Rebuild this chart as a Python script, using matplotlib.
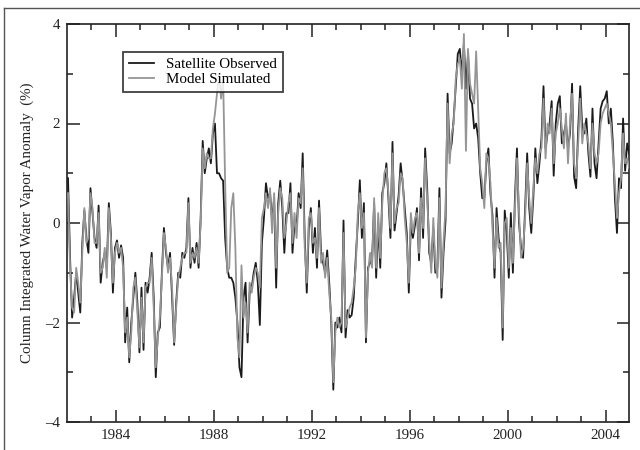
import numpy as np
import matplotlib
matplotlib.use("Agg")
import matplotlib.pyplot as plt
from matplotlib.lines import Line2D

plt.rcParams['font.family'] = ['Liberation Serif', 'DejaVu Serif']

start_year = 1982

# Satellite observed anomaly (%), monthly, Jan 1982 - Dec 2004
obs = [
    0.9, -0.7, -1.9, -1.5, -1.0, -1.4, -1.8, -0.4, 0.25, -0.3, -0.6, 0.7,      # 1982
    0.2, -0.3, -0.5, 0.35, -1.2, -0.8, -0.6, -0.9, 0.4, -0.2, -1.4, -0.5,      # 1983
    -0.35, -0.7, -0.45, -0.7, -2.4, -1.7, -2.8, -2.0, -1.5, -1.0, -1.6, -2.6,  # 1984
    -1.3, -2.55, -1.2, -1.4, -1.1, -0.6, -1.5, -3.1, -2.2, -2.1, -1.0, -0.1,   # 1985
    -0.6, -0.9, -0.6, -1.5, -2.45, -1.6, -1.0, -1.1, -0.6, -0.7, -0.5, 0.5,    # 1986
    -0.9, -0.5, -0.8, -0.4, -0.9, 0.1, 1.65, 1.0, 1.3, 1.5, 1.2, 1.8,          # 1987
    2.0, 1.0, 1.0, 0.9, 0.85, -0.3, -0.9, -1.1, -1.1, -1.2, -1.5, -2.0,        # 1988
    -2.9, -3.1, -1.5, -1.2, -2.4, -1.4, -1.3, -1.0, -0.8, -1.2, -2.05, -0.4,   # 1989
    0.1, 0.8, 0.5, 0.6, 0.05, 0.5, -1.3, 0.4, 0.85, 0.3, -0.6, 0.2,            # 1990
    0.2, 0.8, -0.6, 0.0, -0.1, 0.6, 0.3, 1.4, -0.3, -1.4, -0.1, 0.3,           # 1991
    -0.6, -0.1, -0.9, 0.45, -0.6, -0.8, -1.0, -0.55, -1.2, -2.0, -3.35, -2.0,  # 1992
    -2.1, -1.9, -2.2, 0.05, -2.3, -1.75, -1.9, -1.85, -1.5, -0.7, 0.0, 0.86,   # 1993
    -0.3, 0.4, -2.4, -0.9, -0.8, -0.75, 0.4, -1.1, 0.0, -0.9, 0.6, 0.8,        # 1994
    1.2, 0.5, -0.3, 1.63, -0.15, 0.2, 0.55, 1.2, 0.8, 0.3, -0.2, -1.4,         # 1995
    0.0, -0.3, -0.05, 0.3, -0.75, 0.7, -0.3, 1.5, 0.7, -0.6, -0.8, -0.1,       # 1996
    -1.0, -0.9, 0.7, -1.5, -0.6, 0.05, 2.6, 1.4, 1.6, 2.1, 2.75, 3.4,          # 1997
    3.5, 3.0, 3.6, 2.7, 3.4, 2.5, 2.4, 1.9, 2.0, 1.7, 1.0, 0.5,                # 1998
    0.5, 1.2, 1.5, 0.6, 0.15, -1.1, 0.3, -0.3, -0.6, -2.35, 0.25, -0.2,        # 1999
    -1.1, 0.2, -1.0, 0.5, 1.5, 0.0, -0.5, -0.7, 0.3, 1.4, 0.3, -0.2,           # 2000
    0.5, 1.5, 0.8, 1.2, 1.7, 2.75, 1.5, 1.8, 2.0, 2.45, 0.95, 2.0,             # 2001
    2.4, 2.55, 1.6, 1.8, 2.0, 1.5, 1.8, 2.8, 0.93, 0.7, 1.9, 2.75,             # 2002
    1.9, 1.8, 2.1, 1.4, 0.93, 2.3, 1.2, 0.9, 1.6, 2.3, 2.45, 2.5,              # 2003
    2.65, 2.0, 2.3, 1.6, 0.5, -0.2, 0.9, 0.7, 2.1, 1.05, 1.6, 1.4,             # 2004
]

# Model simulated anomaly (%), monthly, Jan 1982 - Dec 2004
model = [
    0.6, -0.9, -1.7, -1.8, -0.9, -1.2, -1.6, -0.6, 0.3, -0.4, -0.3, 0.6,       # 1982
    0.3, -0.4, -0.4, 0.2, -1.0, -0.9, -0.5, -1.1, 0.3, -0.3, -1.2, -0.6,       # 1983
    -0.4, -0.6, -0.5, -0.9, -2.2, -1.9, -2.7, -2.2, -1.3, -1.1, -1.8, -2.5,    # 1984
    -1.5, -2.4, -1.3, -1.2, -1.2, -0.7, -1.7, -2.9, -2.3, -1.9, -1.1, -0.2,    # 1985
    -0.5, -1.0, -0.7, -1.3, -2.4, -1.7, -1.1, -0.9, -0.7, -0.6, -0.6, 0.4,     # 1986
    -0.8, -0.6, -0.7, -0.5, -0.8, 0.0, 1.5, 1.1, 1.4, 1.3, 1.3, 1.9,           # 1987
    2.2, 2.6, 3.0, 2.5, 2.9, 0.8, -1.0, -0.9, 0.3, 0.6, -0.5, -2.3,            # 1988
    -2.7, -0.85, -1.9, -1.6, -2.2, -1.2, -1.4, -1.1, -0.9, -1.0, -1.3, 0.1,    # 1989
    0.3, 0.6, 0.3, 0.7, -0.2, 0.6, -0.9, 0.2, 0.7, 0.5, -0.3, 0.0,             # 1990
    0.4, 0.6, -0.4, 0.2, -0.3, 0.5, 0.4, 1.1, -0.5, -1.2, 0.1, 0.2,            # 1991
    -0.4, -0.3, -0.7, 0.3, -0.8, -0.6, -1.1, -0.7, -1.4, -1.9, -3.2, -2.2,     # 1992
    -1.9, -2.1, -2.0, -0.2, -2.1, -1.9, -1.7, -1.6, -1.3, -0.9, 0.2, 0.6,      # 1993
    -0.1, 0.2, -2.3, -1.0, -0.6, -0.9, 0.5, -0.9, 0.2, -0.7, 0.4, 1.0,         # 1994
    1.1, 0.6, -0.1, 1.4, 0.0, 0.3, 0.4, 1.0, 0.9, 0.1, -0.4, -1.2,             # 1995
    0.2, -0.2, 0.1, 0.2, -0.6, 0.5, -0.1, 1.3, 0.5, -0.4, -1.0, 0.1,           # 1996
    -0.8, -1.1, 0.5, -1.3, -0.4, 0.3, 2.4, 1.2, 1.8, 2.0, 2.9, 3.2,            # 1997
    3.3, 2.7, 3.8, 1.45, 3.5, 2.8, 2.6, 2.4, 3.45, 2.3, 1.1, 0.8,              # 1998
    0.3, 1.4, 1.3, 0.8, -0.1, -0.9, 0.1, -0.5, -0.4, -2.1, 0.0, 0.1,           # 1999
    -0.9, -0.1, -0.8, 0.3, 1.3, 0.2, -0.7, -0.5, 0.1, 1.2, 0.5, 0.0,           # 2000
    0.7, 1.3, 1.0, 1.4, 1.5, 2.5, 1.3, 2.0, 1.8, 2.3, 1.2, 1.8,                # 2001
    2.0, 2.3, 1.9, 1.5, 2.2, 1.2, 2.0, 2.6, 1.2, 0.9, 1.6, 2.5,                # 2002
    1.6, 2.0, 1.8, 1.6, 1.1, 2.0, 1.4, 1.2, 1.4, 2.0, 2.2, 2.3,                # 2003
    2.4, 2.2, 2.0, 1.4, 0.8, 0.1, 0.6, 0.9, 1.8, 1.2, 1.3, 1.1,                # 2004
]

series_labels = ["Satellite Observed", "Model Simulated"]
ylabel = "Column Integrated Water Vapor Anomaly  (%)"
x_ticks = [1984, 1988, 1992, 1996, 2000, 2004]
y_ticks = [-4, -2, 0, 2, 4]

t = start_year + (np.arange(len(obs)) + 0.5) / 12.0

fig = plt.figure(figsize=(6.4, 4.5), dpi=100)
ax = fig.add_axes([67/640, 28/450, 562/640, 398/450])

ax.plot(t, obs, color="#1a1a1a", lw=1.3, zorder=3)
ax.plot(t, model, color="#959595", lw=1.3, zorder=4)

ax.set_xlim(1982.0, 2004.95)
ax.set_ylim(-4, 4)
ax.set_xticks(x_ticks)
ax.set_xticks(np.arange(1983, 2005), minor=True)
ax.set_yticks(y_ticks)
ax.set_yticks([-3, -1, 1, 3], minor=True)
ax.set_yticklabels([f"{v}" if v >= 0 else f"\u2013{abs(v)}" for v in y_ticks])

ax.tick_params(which="both", direction="in", top=True, right=True, width=1.1,
               labelsize=10.8, colors="#222222")
ax.tick_params(which="major", length=9, pad=5)
ax.tick_params(which="minor", length=4.5)
for sp in ax.spines.values():
    sp.set_linewidth(1.2)
    sp.set_color("#222222")

ax.set_ylabel(ylabel, fontsize=10.8, color="#222222", labelpad=8)

handles = [Line2D([], [], color="#1a1a1a", lw=1.3),
           Line2D([], [], color="#959595", lw=1.3)]
leg = ax.legend(handles, series_labels, loc="upper left",
                bbox_to_anchor=(56/562, 370/398), borderaxespad=0,
                fontsize=10.8, frameon=True, fancybox=False,
                handlelength=1.7, handletextpad=0.8, labelspacing=0.1,
                borderpad=0.38)
leg.get_frame().set_edgecolor("#111111")
leg.get_frame().set_linewidth(1.3)
leg.set_zorder(10)

# outer frame lines of the original figure
fig.add_artist(Line2D([4/640, 4/640], [0, 442/450], color="#555555", lw=1.0))
fig.add_artist(Line2D([4/640, 1.0], [442/450, 442/450], color="#555555", lw=1.0))

fig.savefig("out.png", dpi=100)
